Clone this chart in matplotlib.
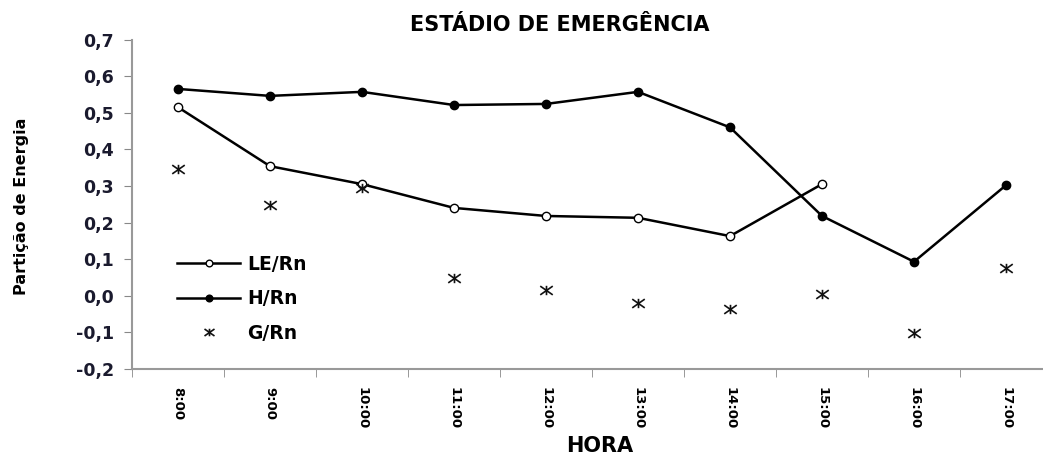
import matplotlib
matplotlib.use("Agg")
import matplotlib.pyplot as plt
from matplotlib.path import Path
import numpy as np

horas = ["8:00", "9:00", "10:00", "11:00", "12:00", "13:00", "14:00", "15:00", "16:00", "17:00"]
le_rn = [0.515, 0.354, 0.305, 0.240, 0.218, 0.213, 0.163, 0.305]
h_rn = [0.565, 0.546, 0.557, 0.521, 0.524, 0.557, 0.460, 0.218, 0.093, 0.302]
g_rn = [0.346, 0.248, 0.294, 0.048, 0.016, -0.019, -0.036, 0.004, -0.103, 0.075]

plt.rcParams['font.family'] = ['DejaVu Sans']
plt.rcParams['font.weight'] = 'bold'

# excel style star: X plus a short vertical bar
star = Path([(-1, -0.7), (1, 0.7), (-1, 0.7), (1, -0.7), (0, -0.75), (0, 0.75)],
            [Path.MOVETO, Path.LINETO, Path.MOVETO, Path.LINETO, Path.MOVETO, Path.LINETO])

fig = plt.figure(figsize=(10.43, 4.57), dpi=100)
ax = fig.add_axes([132 / 1043, 88 / 457, 920 / 1043, 329.5 / 457])

x = np.arange(len(horas))
ax.plot(x[:len(le_rn)], le_rn, color='black', lw=1.8, marker='o', ms=6,
        mfc='white', mec='black', mew=1.0, label='LE/Rn')
ax.plot(x, h_rn, color='black', lw=1.8, marker='o', ms=6,
        mfc='black', mec='black', label='H/Rn')
ax.plot(x, g_rn, ls='none', marker=star, ms=9, color='#111111',
        mew=1.2, label='G/Rn')

ax.set_xlim(-0.5, len(horas) - 0.5)
ax.set_ylim(-0.2, 0.7)
yt = np.arange(-0.2, 0.71, 0.1)
ax.set_yticks(yt)
ax.set_yticklabels(["{:.1f}".format(v).replace('.', ',') for v in yt],
                   fontsize=12.5, fontweight='bold', color='#1a1a2e')
ax.set_xticks(x)
ax.set_xticklabels(horas, rotation=-90, fontsize=9.5, fontweight='bold')
ax.tick_params(axis='x', which='major', length=0, pad=13)
ax.set_xticks(np.arange(-0.5, len(horas), 1.0), minor=True)
ax.tick_params(axis='x', which='minor', length=6, color='#888888', direction='out')
ax.tick_params(axis='y', length=6, color='#888888', direction='out', pad=7)

for s in ['top', 'right']:
    ax.spines[s].set_visible(False)
for s in ['left', 'bottom']:
    ax.spines[s].set_color('#999999')
    ax.spines[s].set_linewidth(1.5)

ax.legend(loc='upper left', bbox_to_anchor=(177 / 1043, 1 - 255 / 457),
          bbox_transform=fig.transFigure, frameon=False, markerscale=0.8,
          handlelength=3.36, handletextpad=0.37, labelspacing=0.82,
          borderpad=0, borderaxespad=0, prop={'weight': 'bold', 'size': 13.5})

fig.text(560 / 1043, 1 - 25 / 457, "ESTÁDIO DE EMERGÊNCIA", ha='center', va='center',
         fontsize=15, fontweight='bold')
fig.text(600 / 1043, 1 - 446 / 457, "HORA", ha='center', va='center',
         fontsize=15, fontweight='bold')
fig.text(22 / 1043, 1 - 206 / 457, "Partição de Energia", ha='center', va='center',
         rotation=90, fontsize=11.5, fontweight='bold')

fig.savefig("out.png", dpi=100)
